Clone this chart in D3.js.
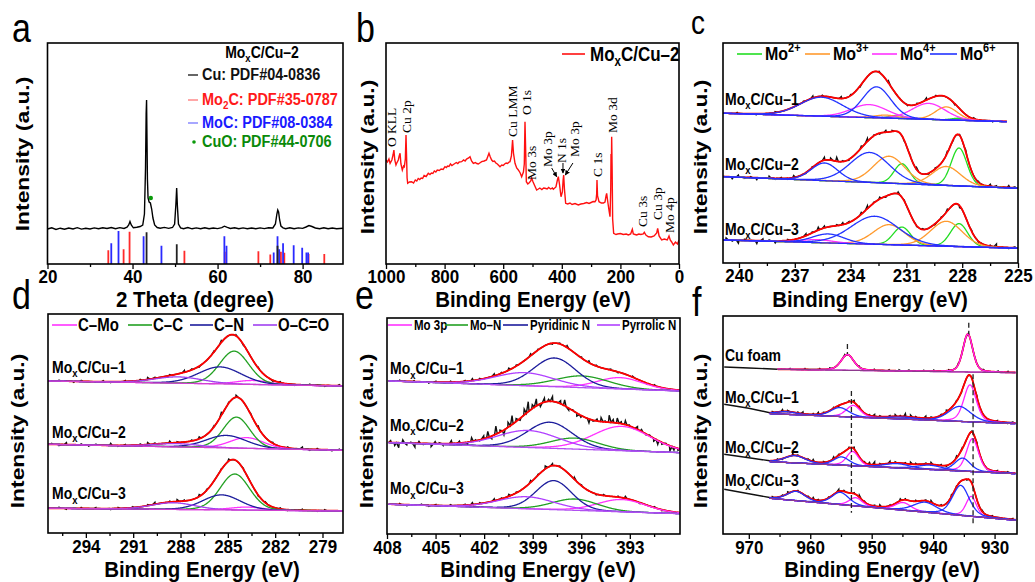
<!DOCTYPE html>
<html>
<head>
<meta charset="utf-8">
<script src="https://cdn.jsdelivr.net/npm/d3@7"></script>
<style>
  body { margin: 0; background: #fff; }
</style>
</head>
<body>
<script>
// ---------------- data ----------------
// (a) XRD pattern of MoxC/Cu-2, [2theta, intensity]
var xrdPattern = [[20,35],[21,36.2],[22,34.6],[23,35.8],[24,34.8],[25,36],[26,35],[27,36.3],[28,34.9],[29,35.7],[30,35],[31,36.1],[32,35.2],[33,36.3],[34,35.5],[35,36.5],[36,35.3],[37,36.4],[38,35.6],[38.7,36.8],[39.1,39],[39.4,42.5],[39.7,39],[40.2,36.2],[41,36.8],[41.8,37.5],[42.4,39],[42.8,50],[43.05,95],[43.2,150],[43.3,164],[43.4,125],[43.5,85],[43.65,66],[43.9,62],[44.2,61],[44.5,55],[44.8,46],[45.2,39],[45.8,36.5],[46.5,35.8],[47.5,36.6],[48.5,35.6],[49.4,36.5],[49.9,40],[50.2,60],[50.38,76],[50.55,58],[50.8,40],[51.3,36.2],[52,35.3],[53,36.4],[54,35.2],[55,36.1],[56,35.3],[57,36.2],[58,35.2],[59,36],[60,35.4],[61,36.4],[61.6,37.8],[62.3,36.6],[63,35.5],[64,36.3],[65,35.2],[66,36.1],[67,35.3],[68,36],[69,35.2],[70,36.1],[71,35.4],[72,36.3],[73,36],[73.6,40],[73.95,50],[74.15,54],[74.35,52],[74.6,44],[74.9,38],[75.4,36.2],[76,35.3],[77,36.2],[78,35.2],[79,36.1],[80,35.6],[80.8,37],[81.5,38.5],[82.2,37.5],[83,36],[84,35.3],[85,36.2],[86,35.2],[87,36],[88,35.3],[89.5,35.8]];
// reference cards [2theta, relative intensity]
var cuCard   = [[43.3,96],[50.4,60],[74.1,55]];
var mo2cCard = [[34.3,42],[37.9,45],[39.3,98],[52.2,40],[61.7,37],[69.6,39],[72.4,29],[74.9,37],[75.7,34],[81.4,30],[85.1,30]];
var mocCard  = [[35.0,63],[36.7,100],[42.6,84],[46.8,55],[61.6,84],[62.1,55],[73.2,35],[74.1,84],[74.5,45],[75.4,63],[77.9,57],[79.9,49],[80.9,35],[81.3,35]];
var cuoMark  = [44.3, 66];
var xrdLegend = ["Cu: PDF#04-0836", "C: PDF#35-0787", "MoC: PDF#08-0384", "CuO: PDF#44-0706"];

// (b) XPS survey [binding energy, intensity]
var survey = [[1000,104],[995,102],[990,105],[986,100.7],[980,104],[976,109],[973,114],[970,104],[966,99],[963.6,100.7],[958,104],[955,108],[952,110.7],[949,100],[944.3,94],[940,98],[937.4,97.3],[934,105],[931.7,129],[930,110],[928,86],[926,80.7],[920,82],[912.5,82.3],[906,81],[900,84],[895,83],[890,85.5],[885,84.5],[880,86],[875,85.5],[870,88.5],[863,87.5],[855.6,90.7],[850,89.5],[845,91],[840,90.5],[835,93],[830,92],[825,94],[818,93.5],[812,95],[805,94.5],[798.6,97.3],[794,96.5],[790,98],[785,97.5],[780,100],[775,98.5],[770,99.5],[765,100.5],[760,101.5],[755,100.5],[750,102],[741.8,102.3],[735,104],[730,103],[725,105],[718,106],[713.3,107.3],[708,103],[701.9,100.7],[695,101.5],[690,100.5],[685,100],[680,101],[673.5,102.3],[665,103],[657,104],[652,108],[648.5,110.7],[644,107],[639.4,104],[635,102.5],[630,103],[625,101],[620,100],[615,98.5],[610.9,97.3],[605,99],[600,98.5],[595,100],[590,101],[585,100.5],[580,102],[576.8,102.3],[572,108],[568,124],[565,111],[559.7,100.7],[554,96],[548.3,94],[542,91],[537,87.3],[531,92],[528,100],[525.6,142.3],[523,110],[521,82.3],[516,80],[512,81],[506,83],[503,86],[498,82],[492,78],[485.8,74],[480,75],[475,76],[468,74.5],[462,76],[457.3,75.7],[450,75],[445,76.5],[438,75],[432,76],[428.9,74.7],[420,77],[415,84],[411.8,87.3],[408,80],[402.7,67.3],[398,72],[395.5,84],[393.6,89],[391,75],[386.8,60.7],[380,60],[372,61],[365,59.5],[355,60.5],[343.6,59],[335,60],[325,60.5],[315,61.5],[307,60.5],[300,61.5],[293,62.5],[286.7,62.3],[283,64],[281,70],[279.9,84],[278,68],[273,62.3],[265,61],[258,61],[252.6,62],[249,68],[246.9,70.7],[243,62],[238,52],[235.5,47.3],[233,75],[232,110],[231,88],[229.8,127.3],[228.2,95],[226.5,45],[223,30.7],[215,29.5],[210,30],[200,30.5],[190,29.5],[180,30],[172.9,29],[165,30],[159.3,34.7],[156,30],[150,29.5],[144.5,29],[137,30],[130,29.5],[122,30],[118.3,31.7],[113,29],[104.7,27.3],[95,27],[85,28],[76,31],[72.8,35.7],[68,28],[59.2,24],[50,25],[40,24],[34.1,28],[30,24],[25,22],[19.3,19],[12,22],[5,20],[0,24]];
// peak labels [text, binding energy, intensity at the start of the text]
var surveyLabels = [["O KLL",979.5,117],["Cu 2p",928.3,131],["Cu LMM",566.6,127],["O 1s",518.8,149],["Mo 3s",503.4,84],["Mo 3p",447.1,97],["N 1s",399.3,101],["Mo 3p",355,107],["C 1s",276.5,87],["Mo 3d",225.3,131],["Cu 3s",122.9,37],["Cu 3p",71.7,44],["Mo 4p",30.7,31]];
var surveyArrows = [[[434.5,96],[417.4,87.3]],[[396,101],[396,91]],[[362,101],[388,89]]];

// (c) Mo 3d, peaks are [state, BE, height, fwhm]
var moStates = ["2+", "3+", "4+", "6+"];
var mo3dSamples = ["MoxC/Cu–1", "MoxC/Cu–2", "MoxC/Cu–3"];
var mo3dEnd = [225.6, 225, 225];
var mo3dBg = [[149.7,141.3],[86.3,74.7],[23,14.7]];
var mo3dPeaks = [
  [[0,231.5,3,1.0],[0,228.2,2,0.9],[1,232.1,3,1.4],[1,228.85,13,1.4],[2,233.0,13,2.3],[2,229.8,16,2.1],[3,235.57,19,2.7],[3,232.6,31,1.8]],
  [[0,231.24,20,1.0],[0,228.17,38,1.0],[1,231.93,27,2.0],[1,228.85,19,1.8],[3,235.4,17.7,1.7],[3,232.97,30,2.5]],
  [[0,231.24,18,1.1],[0,228.17,23,1.1],[1,231.93,20,2.0],[1,228.85,25,2.0],[2,235.8,3,2.0],[3,235.2,9,2.0],[3,232.7,28,3.0]]
];
var mo3dNoise = [
  [0,1,0,-1,0,1,0,0,1,2,1,0,2,1,-1,0,1,2,0,-1,1,2,1,0,-1,0,1,0,-1,0],
  [0,-2,2,-1,1,-2,0,2,-1,1,-1,2,0,-1,1,0,3,2,4,1,-1,0,2,3,1,-1,2,1,0,-1,1,2,0,-1,1,0,2,-1,1,2,0,1,-1,2,1,0,2,1],
  [2,-1,-3,1,0,-3,2,1,-2,0,1,-1,0,2,1,3,2,0,1,2,1,0,2,3,1,2,-1,0,2,1,0,-1,1,0,-1,1,2,0,-2,0,1,-1,0,1,3,0,-1,1]
];

// (d) C 1s
var c1sNames = ["C–Mo", "C–C", "C–N", "O–C=O"];
var c1sBg = [[152,147],[88.7,82.7],[24.7,22]];
var c1sPeaks = [
  [[0,283.4,4,2.5],[1,284.6,33,2.2],[2,285.5,17,3.2],[3,288.15,6.3,3.6]],
  [[0,283.8,10.7,2.5],[1,284.45,31,2.0],[2,285.1,12.5,3.0],[3,288.25,3.3,3.5]],
  [[0,283.8,3,2.5],[1,284.56,36,2.2],[2,285.4,15,2.8],[3,288.47,6.7,3.2]]
];
var c1sNoise = [
  [0,1,0,-1,1,0,0,1,-1,0,1,0,1,2,1,0,1,0,2,1,-1,0,1,2,0,1,-1,0,1,0,-1,1,0,-1,0,1,0,-1,0,1],
  [1,-1,2,0,1,-1,1,0,2,-1,1,0,1,2,1,0,2,1,0,1,2,0,1,3,1,2,0,1,2,0,1,-1,1,0,2,-1,1,0,-1,1],
  [0,1,-1,0,1,0,1,0,-1,1,0,1,0,1,2,0,1,2,1,0,2,1,0,1,2,0,1,0,-1,1,0,1,-1,0,1,0,-1,1,0,0]
];

// (e) N 1s
var n1sNames = ["Mo 3p", "Mo–N", "Pyridinic N", "Pyrrolic N"];
var n1sBg = [[153,143],[91.3,81.3],[29.7,20.3]];
var n1sPeaks = [
  [[0,393.6,11.3,3.3],[1,395.95,11.7,3.9],[2,397.65,28.7,3.1],[3,399.5,13,4.3]],
  [[0,393.5,24.3,4.2],[1,396.4,11,3.5],[2,397.95,26,3.3],[3,399.3,17,4.5]],
  [[0,393.5,12.3,3.5],[1,396.4,11.3,3.3],[2,397.7,29,2.6],[3,399.4,12,4.1]]
];
var n1sNoise = [
  [0,1,0,1,0,-1,1,0,1,0,1,2,1,0,2,1,2,1,0,2,1,0,-1,1,2,0,1,2,1,0,1,-1,0,1,0,-1,1,0,-1,0],
  [2,-3,-5,3,-2,1,-4,2,-1,0,-3,2,1,-2,0,3,-1,2,0,-2,4,1,-1,3,6,-3,8,2,-5,5,9,3,-2,6,10,4,7,-3,4,2,5,0,3,6,-2,1,-3,-2,0,-4,-1,2,4,1,7,3,5,2,4,1,-1,3,2,-1,1,-3,-4,-2,1,-5,-3,-2],
  [0,1,-1,0,1,-1,1,0,1,0,1,2,1,0,2,1,2,1,0,2,1,3,2,1,0,2,1,0,-1,1,0,1,2,0,-1,0,1,-1,0,-1]
];

// (f) Cu 2p, peaks are [0 = Cu0/Cu+, 1 = Cu2+ , BE, height, fwhm]
var cu2pSamples = ["Cu foam", "MoxC/Cu–1", "MoxC/Cu–2", "MoxC/Cu–3"];
var cu2pFitStart = [965.3, 966.6, 966.6, 966.6];
var cu2pBg = [[164.7,161.3],[120.3,110.3],[72.3,60.3],[35.7,13.7]];
var cu2pLead = [[[974,167],[970,166]],[[974,129.7],[970,125.7]],[[974,79.7],[970,76.3]],[[974,44.7],[970,40.3]]];
var cu2pPeaks = [
  [[0,953.95,15.7,2.45],[0,934.35,38,1.9]],
  [[1,955.2,9,3.5],[1,963.9,2.7,4],[1,944.9,2,6],[1,935.7,15,4.3],[0,953.0,11.7,2.7],[0,934.0,37,2.4]],
  [[1,962.5,7.3,4],[1,954.9,8.3,3],[1,945.9,4.3,5],[1,940.6,4.3,5],[1,935.2,13,3.0],[0,953.1,14.3,2.3],[0,933.6,33,2.3]],
  [[1,962.3,9.3,3.5],[1,955.1,12.3,3.3],[1,941.3,10,4.5],[1,935.5,30,3.2],[0,952.6,8.3,2.5],[0,944.9,7.7,3],[0,933.8,20,2.0]]
];
var cu2pNoise = [
  [0,0,1,0,0,1,0,0,1,0,1,0,0,1,0,0,1,0,0,1,0,0,1,0,1,0,1,0,0,1,0,1,0,0,1,0,1,0,1,0,0,1,0,0,1,0,1,0],
  [1,0,2,1,0,1,2,0,1,2,1,0,1,-1,0,1,2,1,0,1,2,1,0,1,2,1,3,2,1,0,2,1,0,1,2,0,1,-1,0,1,2,0,-1,0,1,0,-1,1],
  [0,1,-1,0,2,1,0,1,2,0,1,0,2,1,0,1,2,0,1,2,3,1,0,2,1,0,1,2,1,0,1,2,0,1,-1,0,2,1,0,1,2,0,-1,0,1,0,1,0],
  [1,0,1,2,0,1,0,1,2,1,0,1,0,2,1,0,1,2,1,0,1,2,0,1,0,2,1,0,1,0,1,2,0,1,0,2,1,0,-1,1,0,1,0,1,0,-1,0,1]
];
// dashed guides [BE, top, bottom]
var cu2pGuides = [[953.95,190,180],[934.2,211.3,199.7],[953.3,143,21.3],[933.5,159.7,9.7]];

// ---------------- layout ----------------
var svg = d3.select("body").append("svg").attr("width", 1035).attr("height", 582);
var FONT = "Arial, 'Liberation Sans', sans-serif";

var frames = {
  a: {x0: 47.5, x1: 343, y0: 43, y1: 264, dom: [20, 89.5]},
  b: {x0: 386, x1: 679, y0: 43, y1: 264, dom: [1000, 0]},
  c: {x0: 723, x1: 1018, y0: 43, y1: 263, dom: [240.86, 225]},
  d: {x0: 48, x1: 343, y0: 314, y1: 533, dom: [296.4, 277.7]},
  e: {x0: 387, x1: 680, y0: 318, y1: 534, dom: [408, 389.9]},
  f: {x0: 723, x1: 1017, y0: 316, y1: 534, dom: [974.2, 926.35]}
};

// text helper, parts = [[text, ""|"sub"|"sup"], ...]
function txt(x, y, size, parts, opt) {
  opt = opt || {};
  var st = opt.stretch || 1.2;
  var tr = "translate(" + x + "," + y + ")";
  if (opt.rot) tr += " rotate(-90)" + (opt.flat ? "" : " scale(" + st + ",1)");
  else if (!opt.flat) tr += " scale(1," + st + ")";
  var t = svg.append("text")
    .attr("transform", tr)
    .attr("font-size", size)
    .attr("font-weight", opt.weight || "bold")
    .attr("font-family", opt.family || FONT)
    .attr("fill", opt.color || "#000")
    .attr("text-anchor", opt.anchor || "start");
  if (opt.dy) t.attr("dy", opt.dy);
  if (typeof parts === "string") parts = [[parts, ""]];
  var shift = 0;
  parts.forEach(function(pt) {
    var s = t.append("tspan").text(pt[0]);
    var want = pt[1] === "sub" ? size * 0.25 : pt[1] === "sup" ? -size * 0.4 : 0;
    if (want !== shift) s.attr("dy", want - shift);
    shift = want;
    if (pt[1]) s.attr("font-size", size * 0.68);
  });
  return t;
}
function sampleParts(name) {
  if (name.indexOf("MoxC") === 0) return [["Mo", ""], ["x", "sub"], [name.slice(3), ""]];
  return [[name, ""]];
}

// scales, clip paths
Object.keys(frames).forEach(function(k) {
  var p = frames[k];
  p.x = d3.scaleLinear().domain(p.dom).range([p.x0, p.x1]);
  p.y = d3.scaleLinear().domain([0, p.y1 - p.y0]).range([p.y1, p.y0]);
  svg.append("clipPath").attr("id", "clip-" + k).append("rect")
    .attr("x", p.x0).attr("y", p.y0).attr("width", p.x1 - p.x0).attr("height", p.y1 - p.y0);
  p.g = svg.append("g").attr("clip-path", "url(#clip-" + k + ")");
  p.line = d3.line().x(function(d) { return p.x(d[0]); }).y(function(d) { return p.y(d[1]); });
});

function axis(p, major, minor, labelDy) {
  var gMin = svg.append("g").attr("transform", "translate(0," + p.y1 + ")")
    .call(d3.axisBottom(p.x).tickValues(minor).tickSize(3).tickFormat(""));
  var gMaj = svg.append("g").attr("transform", "translate(0," + p.y1 + ")")
    .call(d3.axisBottom(p.x).tickValues(major).tickSize(5).tickFormat(d3.format("d")));
  [gMin, gMaj].forEach(function(g) {
    g.select(".domain").remove();
    g.selectAll("line").attr("stroke", "#000").attr("stroke-width", 1.3);
  });
  gMaj.attr("font-family", FONT).attr("font-size", 17);
  gMaj.selectAll("text")
    .attr("y", null).attr("dy", null)
    .attr("transform", "translate(0," + labelDy + ") scale(1,1.12)")
    .attr("font-weight", "bold").attr("fill", "#000");
}

function frame(p) {
  svg.append("rect").attr("x", p.x0).attr("y", p.y0)
    .attr("width", p.x1 - p.x0).attr("height", p.y1 - p.y0)
    .attr("fill", "none").attr("stroke", "#000").attr("stroke-width", 1.6);
}

function shape(v, c, h, w, m) {
  var t = (v - c) / w;
  return h * ((1 - m) * Math.exp(-4 * Math.LN2 * t * t) + m / (1 + 4 * t * t));
}

// one fitted spectrum: raw (black), envelope (red), background and components
function spectrum(p, s) {
  var N = 700, xs = [], i;
  for (i = 0; i <= N; i++) xs.push(s.from + (s.to - s.from) * i / N);
  var bgAt = function(v) { return s.bg[0] + (s.bg[1] - s.bg[0]) * (v - s.from) / (s.to - s.from); };
  var comp = function(pk, v) { return shape(v, pk[1], pk[2], pk[3], s.mix); };
  var env = function(v) { return bgAt(v) + d3.sum(s.peaks, function(pk) { return comp(pk, v); }); };

  // measured trace: coarse grid on the fit plus the read-off residuals
  var raw = [], M = 110;
  for (i = 0; i <= M; i++) { var g = s.from + (s.to - s.from) * i / M; raw.push([g, env(g)]); }
  s.noise.forEach(function(dv, k) {
    var v = s.from + (s.to - s.from) * (k + 0.5) / s.noise.length;
    raw.push([v, env(v) + dv]);
  });
  if (s.lead) raw = raw.concat(s.lead);
  raw.sort(function(a, b) { return b[0] - a[0]; });
  p.g.append("path").attr("d", p.line(raw)).attr("fill", "none")
    .attr("stroke", "#111").attr("stroke-width", 1.4);

  p.g.append("path").attr("d", p.line(xs.map(function(v) { return [v, env(v)]; })))
    .attr("fill", "none").attr("stroke", "#ff0000").attr("stroke-width", 1.8);

  var order = s.peaks.slice().sort(function(a, b) { return a[0] - b[0]; });
  order.forEach(function(pk) {
    p.g.append("path").attr("d", p.line(xs.map(function(v) { return [v, bgAt(v) + comp(pk, v)]; })))
      .attr("fill", "none").attr("stroke", s.colors[pk[0]]).attr("stroke-width", 1.3);
  });
  p.g.append("path").attr("d", p.line(xs.map(function(v) { return [v, bgAt(v)]; })))
    .attr("fill", "none").attr("stroke", s.bgColor).attr("stroke-width", 1.3);
}

// ---------------- (a) XRD ----------------
var pa = frames.a;
var stickY = d3.scaleLinear().domain([0, 100]).range([pa.y1, pa.y1 - 33]);
[[mo2cCard, "#ff2a2a"], [mocCard, "#2a2aff"], [cuCard, "#222"]].forEach(function(c) {
  pa.g.selectAll(null).data(c[0]).enter().append("line")
    .attr("x1", function(d) { return pa.x(d[0]); }).attr("x2", function(d) { return pa.x(d[0]); })
    .attr("y1", stickY(0)).attr("y2", function(d) { return stickY(d[1]); })
    .attr("stroke", c[1]).attr("stroke-width", 1.8);
});
pa.g.append("path").attr("d", pa.line(xrdPattern)).attr("fill", "none")
  .attr("stroke", "#000").attr("stroke-width", 1.4);
pa.g.append("circle").attr("cx", pa.x(cuoMark[0])).attr("cy", pa.y(cuoMark[1]))
  .attr("r", 2.2).attr("fill", "#0a9a0a");

txt(262, 58, 14, sampleParts("MoxC/Cu–2"), {anchor: "middle"});
var legCol = ["#111", "#ff1a1a", "#1a1aff", "#0a8a0a"];
var legLine = ["#333", "#ff8a8a", "#8a8aff", null];
[80, 105, 128, 147].forEach(function(yb, i) {
  if (legLine[i]) svg.append("line").attr("x1", 188).attr("x2", 198).attr("y1", yb - 5).attr("y2", yb - 5)
    .attr("stroke", legLine[i]).attr("stroke-width", 1.5);
  else svg.append("circle").attr("cx", 194).attr("cy", yb - 5).attr("r", 1.8).attr("fill", "#0a9a0a");
  var parts = i === 1 ? [["Mo", ""], ["2", "sub"], [xrdLegend[1], ""]] : [[xrdLegend[i], ""]];
  txt(202, yb, 14.5, parts, {color: legCol[i]});
});
axis(pa, [20, 40, 60, 80], [30, 50, 70], 18.5);

// ---------------- (b) survey ----------------
var pb = frames.b;
pb.g.append("path").attr("d", pb.line(survey)).attr("fill", "none")
  .attr("stroke", "#ff1010").attr("stroke-width", 1.4);
surveyLabels.forEach(function(l) {
  txt(pb.x(l[1]), pb.y(l[2]), 13.5, l[0], {rot: true, flat: true, weight: "normal",
    family: "'Liberation Serif', 'Times New Roman', serif", dy: "0.33em"});
});
var defs = svg.append("defs");
defs.append("marker").attr("id", "arr").attr("viewBox", "0 0 10 10").attr("refX", 9).attr("refY", 5)
  .attr("markerWidth", 5).attr("markerHeight", 5).attr("orient", "auto")
  .append("path").attr("d", "M0,0L10,5L0,10z").attr("fill", "#000");
surveyArrows.forEach(function(a) {
  svg.append("line").attr("x1", pb.x(a[0][0])).attr("y1", pb.y(a[0][1]))
    .attr("x2", pb.x(a[1][0])).attr("y2", pb.y(a[1][1]))
    .attr("stroke", "#000").attr("stroke-width", 1).attr("marker-end", "url(#arr)");
});
svg.append("line").attr("x1", 562).attr("x2", 585).attr("y1", 54).attr("y2", 54)
  .attr("stroke", "#ff1010").attr("stroke-width", 1.6);
txt(590, 61, 17, sampleParts("MoxC/Cu–2"));
axis(pb, [1000, 800, 600, 400, 200, 0], [900, 700, 500, 300, 100], 18.5);

// ---------------- (c) Mo 3d ----------------
var pc = frames.c;
var cColors = ["#22dd22", "#ff9a2e", "#ff33ff", "#2233ff"];
mo3dPeaks.forEach(function(pk, i) {
  spectrum(pc, {from: 240.86, to: mo3dEnd[i], bg: mo3dBg[i], peaks: pk, colors: cColors,
    mix: 0.1, noise: mo3dNoise[i], bgColor: "#2a2aff"});
});
[105, 170, 235].forEach(function(yb, i) { txt(725, yb, 14, sampleParts(mo3dSamples[i])); });
[[737, 762], [805, 830], [872, 897], [930, 957]].forEach(function(xx, i) {
  svg.append("line").attr("x1", xx[0]).attr("x2", xx[1]).attr("y1", 54).attr("y2", 54)
    .attr("stroke", cColors[i]).attr("stroke-width", 1.6);
  txt(xx[1] + 3, 60, 16, [["Mo", ""], [moStates[i], "sup"]]);
});
axis(pc, [240, 237, 234, 231, 228, 225], [238.5, 235.5, 232.5, 229.5, 226.5], 18.5);

// ---------------- (d) C 1s ----------------
var pd = frames.d;
var dColors = ["#ff33ff", "#22a022", "#1c1c9c", "#a040f0"];
c1sPeaks.forEach(function(pk, i) {
  spectrum(pd, {from: 296.4, to: 277.7, bg: c1sBg[i], peaks: pk, colors: dColors,
    mix: 0.1, noise: c1sNoise[i], bgColor: "#d040d0"});
});
[372.7, 437.7, 499.3].forEach(function(yb, i) { txt(52, yb, 14, sampleParts(mo3dSamples[i])); });
[[52, 77], [128, 152], [190, 213], [253, 277]].forEach(function(xx, i) {
  svg.append("line").attr("x1", xx[0]).attr("x2", xx[1]).attr("y1", 325).attr("y2", 325)
    .attr("stroke", dColors[i]).attr("stroke-width", 1.6);
  txt(xx[1] + 1, 331, 15, c1sNames[i]);
});
axis(pd, [294, 291, 288, 285, 282, 279], [295.5, 292.5, 289.5, 286.5, 283.5, 280.5], 20);

// ---------------- (e) N 1s ----------------
var pe = frames.e;
var eColors = ["#ff33ff", "#22a022", "#1c1c9c", "#b040ff"];
n1sPeaks.forEach(function(pk, i) {
  spectrum(pe, {from: 407.9, to: 389.9, bg: n1sBg[i], peaks: pk, colors: eColors,
    mix: 0.1, noise: n1sNoise[i], bgColor: "#b050f0"});
});
[374.3, 431, 494.3].forEach(function(yb, i) { txt(390, yb, 14, sampleParts(mo3dSamples[i])); });
[[388, 412], [445, 468], [503, 528], [597, 620]].forEach(function(xx, i) {
  svg.append("line").attr("x1", xx[0]).attr("x2", xx[1]).attr("y1", 325).attr("y2", 325)
    .attr("stroke", eColors[i]).attr("stroke-width", 1.6);
  txt(xx[1] + 2, 329.5, 11.5, n1sNames[i]);
});
axis(pe, [408, 405, 402, 399, 396, 393], [406.5, 403.5, 400.5, 397.5, 394.5, 391.5], 19.5);

// ---------------- (f) Cu 2p ----------------
var pf = frames.f;
var fColors = ["#ff22ff", "#2233ff"];
cu2pPeaks.forEach(function(pk, i) {
  spectrum(pf, {from: cu2pFitStart[i], to: 926.6, bg: cu2pBg[i], peaks: pk, colors: fColors,
    mix: 0.35, noise: cu2pNoise[i], lead: cu2pLead[i], bgColor: "#8e3a8e"});
});
cu2pGuides.forEach(function(gd) {
  svg.append("line").attr("x1", pf.x(gd[0])).attr("x2", pf.x(gd[0]))
    .attr("y1", pf.y(gd[1])).attr("y2", pf.y(gd[2]))
    .attr("stroke", "#222").attr("stroke-width", 1.3).attr("stroke-dasharray", "5,3");
});
[361, 402.7, 452.7, 486].forEach(function(yb, i) { txt(725, yb, 14, sampleParts(cu2pSamples[i])); });
axis(pf, [970, 960, 950, 940, 930], [965, 955, 945, 935], 19.5);

// ---------------- frames, axis titles, panel letters ----------------
Object.keys(frames).forEach(function(k) { frame(frames[k]); });

var xTitle = {size: 20.5, stretch: 1.1};
[[195, 307, "2 Theta (degree)"], [533, 307, "Binding Energy (eV)"], [870, 307, "Binding Energy (eV)"],
 [202, 577, "Binding Energy (eV)"], [538, 577, "Binding Energy (eV)"], [882, 577, "Binding Energy (eV)"]]
  .forEach(function(t) { txt(t[0], t[1], xTitle.size, t[2], {anchor: "middle", stretch: xTitle.stretch}); });

[[22, 154], [367, 157], [700, 157], [17, 431], [366, 431], [700, 431]].forEach(function(c) {
  txt(c[0], c[1], 19, "Intensity (a.u.)", {rot: true, anchor: "middle", dy: "0.35em"});
});

[["a", 12, 42, 34], ["b", 356, 42, 34], ["c", 691, 34, 28], ["d", 12, 309, 34], ["e", 355, 309, 34], ["f", 692, 316, 34]]
  .forEach(function(l) { txt(l[1], l[2], l[3], l[0], {weight: "normal"}); });
</script>
</body>
</html>
